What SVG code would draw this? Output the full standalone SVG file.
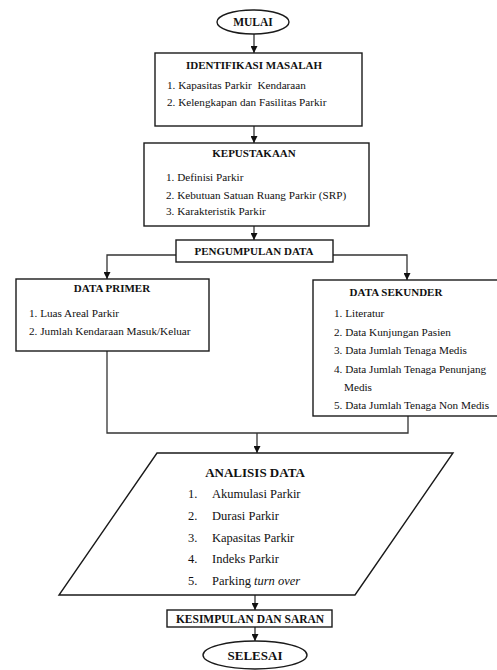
<svg xmlns="http://www.w3.org/2000/svg" width="497" height="670" viewBox="0 0 497 670">
<style>
.box{fill:#fff;stroke:#1a1a1a;stroke-width:1.4}
.ln{fill:none;stroke:#333;stroke-width:1.3}
text{font-family:'Liberation Serif','DejaVu Serif',serif;font-size:11.2px;fill:#111}
.b{font-weight:bold;text-anchor:middle;font-size:11px}
.big{font-size:12.5px}
</style>
<defs>
<marker id="ah" viewBox="0 0 10 10" refX="10" refY="5" markerWidth="7" markerHeight="7" markerUnits="userSpaceOnUse" orient="auto">
<path d="M0,0 L10,5 L0,10 z" fill="#111"/>
</marker>
</defs>
<rect width="497" height="670" fill="#fff"/>
<g id="connectors">
<line class="ln" x1="254" y1="34" x2="254" y2="53" marker-end="url(#ah)"/>
<line class="ln" x1="254" y1="126" x2="254" y2="143" marker-end="url(#ah)"/>
<line class="ln" x1="254" y1="226" x2="254" y2="240" marker-end="url(#ah)"/>
<polyline class="ln" points="176,255 107,255 107,279" marker-end="url(#ah)"/>
<polyline class="ln" points="333,255 407,255 407,280" marker-end="url(#ah)"/>
<polyline class="ln" points="107,351 107,433 408,433 408,416"/>
<line class="ln" x1="257" y1="433" x2="257" y2="453" marker-end="url(#ah)"/>
<line class="ln" x1="255" y1="595" x2="255" y2="610" marker-end="url(#ah)"/>
<line class="ln" x1="255" y1="627" x2="255" y2="641" marker-end="url(#ah)"/>
</g>
<g id="mulai">
<ellipse class="box" cx="253" cy="22" rx="36" ry="12"/>
<text class="b" x="253" y="26" style="font-size:11.5px">MULAI</text>
</g>
<g id="identifikasi">
<rect class="box" x="155" y="53" width="207" height="73"/>
<text class="b" x="254" y="69">IDENTIFIKASI MASALAH</text>
<text x="167" y="89" xml:space="preserve">1. Kapasitas Parkir  Kendaraan</text>
<text x="167" y="106">2. Kelengkapan dan Fasilitas Parkir</text>
</g>
<g id="kepustakaan">
<rect class="box" x="144" y="143" width="225" height="83"/>
<text class="b" x="254" y="157">KEPUSTAKAAN</text>
<text x="166" y="181">1. Definisi Parkir</text>
<text x="166" y="199">2. Kebutuan Satuan Ruang Parkir (SRP)</text>
<text x="166" y="215">3. Karakteristik Parkir</text>
</g>
<g id="pengumpulan">
<rect class="box" x="176" y="240" width="157" height="22"/>
<text class="b" x="254" y="255">PENGUMPULAN DATA</text>
</g>
<g id="primer">
<rect class="box" x="16" y="279" width="193" height="72"/>
<text class="b" x="112" y="292">DATA PRIMER</text>
<text x="29" y="317">1. Luas Areal Parkir</text>
<text x="29" y="335">2. Jumlah Kendaraan Masuk/Keluar</text>
</g>
<g id="sekunder">
<rect class="box" x="313" y="280" width="190" height="136"/>
<text class="b" x="396" y="296">DATA SEKUNDER</text>
<text x="334" y="317">1. Literatur</text>
<text x="334" y="336">2. Data Kunjungan Pasien</text>
<text x="334" y="354">3. Data Jumlah Tenaga Medis</text>
<text x="334" y="373">4. Data Jumlah Tenaga Penunjang</text>
<text x="344" y="391">Medis</text>
<text x="334" y="409">5. Data Jumlah Tenaga Non Medis</text>
</g>
<g id="analisis">
<polygon class="box" points="157,453 453,453 355,595 59,595"/>
<text class="b" x="255" y="477" style="font-size:13px">ANALISIS DATA</text>
<text class="big" x="188" y="498">1.</text><text class="big" x="212" y="498">Akumulasi Parkir</text>
<text class="big" x="188" y="520">2.</text><text class="big" x="212" y="520">Durasi Parkir</text>
<text class="big" x="188" y="542">3.</text><text class="big" x="212" y="542">Kapasitas Parkir</text>
<text class="big" x="188" y="563">4.</text><text class="big" x="212" y="563">Indeks Parkir</text>
<text class="big" x="188" y="585">5.</text><text class="big" x="212" y="585">Parking <tspan font-style="italic">turn over</tspan></text>
</g>
<g id="kesimpulan">
<rect class="box" x="167" y="610" width="165" height="17"/>
<text class="b" x="250" y="623" style="font-size:11.5px">KESIMPULAN DAN SARAN</text>
</g>
<g id="selesai">
<ellipse class="box" cx="255" cy="655" rx="52" ry="14"/>
<text class="b" x="255" y="660" style="font-size:13px">SELESAI</text>
</g>
</svg>
